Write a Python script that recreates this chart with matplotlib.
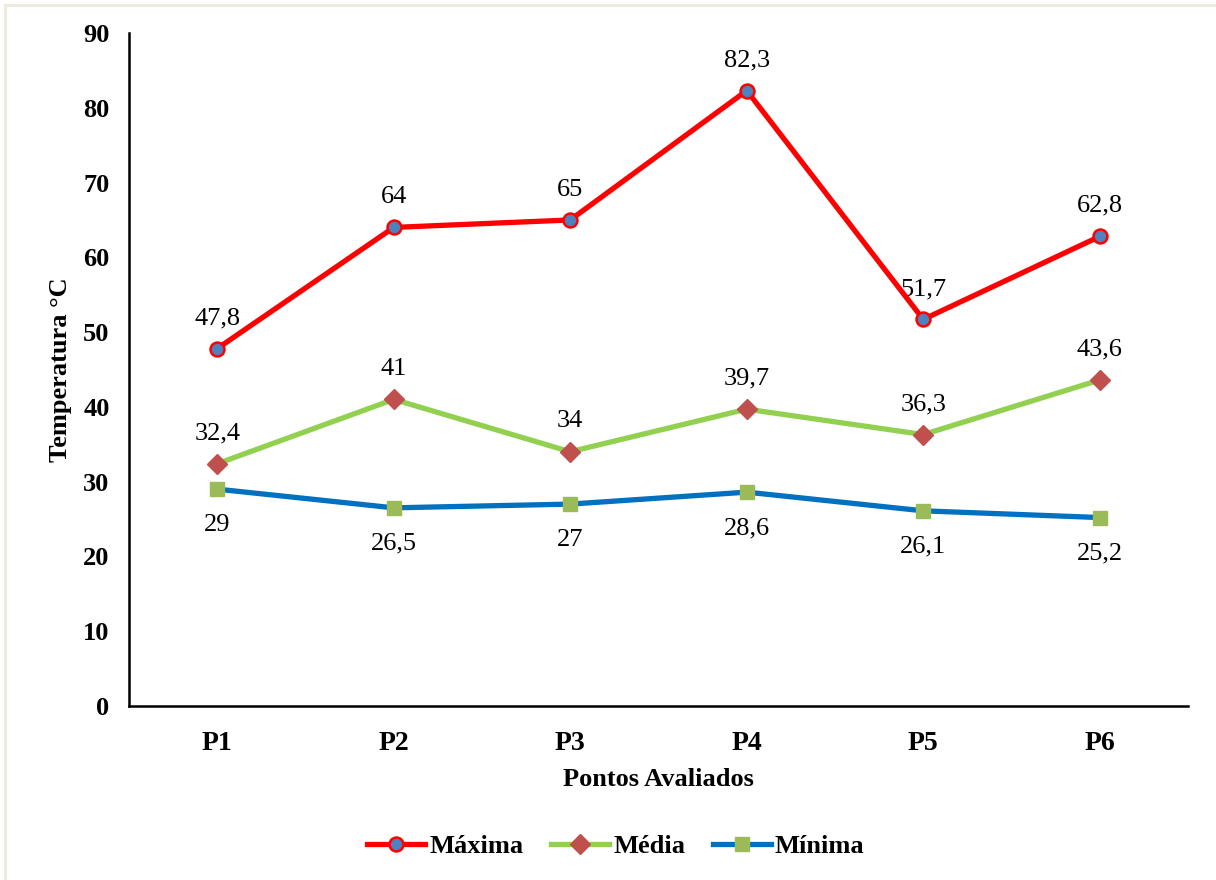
import matplotlib
matplotlib.use("Agg")
import matplotlib.pyplot as plt
from matplotlib.patches import Rectangle

# Temperature readings at each evaluated point
pontos = ["P1", "P2", "P3", "P4", "P5", "P6"]
maxima = [47.8, 64, 65, 82.3, 51.7, 62.8]
media = [32.4, 41, 34, 39.7, 36.3, 43.6]
minima = [29, 26.5, 27, 28.6, 26.1, 25.2]
y_ticks = [0, 10, 20, 30, 40, 50, 60, 70, 80, 90]

plt.rcParams["font.family"] = ["Liberation Serif", "DejaVu Serif"]

W, H = 1216, 880
fig = plt.figure(figsize=(W / 100, H / 100), dpi=100)
fig.patch.set_facecolor("white")

# thin frame around the chart area
fig.patches.append(Rectangle((5 / W, -0.1), 1.2, 1 - 5 / H + 0.1,
                             transform=fig.transFigure, fill=False,
                             edgecolor="#eeece1", linewidth=2.2))

ax = fig.add_axes([129 / W, 1 - 706 / H, (1188 - 129) / W, (706 - 33) / H])
x = list(range(len(pontos)))

ax.plot(x, maxima, color="#ff0000", lw=3.8, marker="o", ms=10,
        mfc="#4f81bd", mec="#ff0000", mew=1.8, label="Máxima", zorder=4)
ax.plot(x, media, color="#92d050", lw=3.8, marker="D", ms=10,
        mfc="#c0504d", mec="#c0504d", label="Média", zorder=3)
ax.plot(x, minima, color="#0070c0", lw=3.8, marker="s", ms=10,
        mfc="#9bbb59", mec="#9bbb59", label="Mínima", zorder=3)

def fmt(v):
    s = f"{v:g}"
    return s.replace(".", ",")

for xi, v in zip(x, maxima):
    ax.annotate(fmt(v), (xi, v), xytext=(0, 14), textcoords="offset points",
                ha="center", va="bottom", fontsize=19)
for xi, v in zip(x, media):
    ax.annotate(fmt(v), (xi, v), xytext=(0, 14), textcoords="offset points",
                ha="center", va="bottom", fontsize=19)
for xi, v in zip(x, minima):
    ax.annotate(fmt(v), (xi, v), xytext=(0, -18), textcoords="offset points",
                ha="center", va="top", fontsize=19)

ax.set_xlim(-0.5, len(pontos) - 0.5)
ax.set_ylim(0, 90)
ax.set_yticks(y_ticks)
ax.set_xticks(x)
ax.set_xticklabels(pontos)
ax.tick_params(length=0)
ax.tick_params(axis="y", labelsize=19, pad=14)
ax.tick_params(axis="x", labelsize=20, pad=18)
for lbl in ax.get_xticklabels() + ax.get_yticklabels():
    lbl.set_fontweight("bold")

for s in ["top", "right"]:
    ax.spines[s].set_visible(False)
for s in ["left", "bottom"]:
    ax.spines[s].set_linewidth(1.8)
    ax.spines[s].set_color("black")

ax.set_xlabel("Pontos Avaliados", fontsize=19, fontweight="bold", labelpad=9)
ax.set_ylabel("Temperatura °C", fontsize=19, fontweight="bold", labelpad=8)

leg = fig.legend(loc="center", bbox_to_anchor=(616 / W, 1 - 846 / H), ncol=3,
                 frameon=False, prop={"size": 19, "weight": "bold"},
                 handlelength=2.2, columnspacing=1.05, handletextpad=0.15)

fig.savefig("out.png", dpi=100, facecolor="white")
